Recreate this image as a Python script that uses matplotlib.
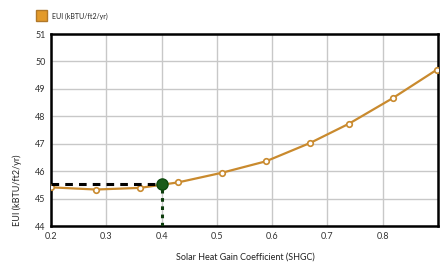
import matplotlib
matplotlib.use("Agg")
import matplotlib.pyplot as plt
from matplotlib.patches import Rectangle

shgc = [0.2, 0.281, 0.361, 0.430, 0.509, 0.589, 0.669, 0.739, 0.818, 0.898]
eui = [45.41, 45.33, 45.39, 45.59, 45.94, 46.36, 47.03, 47.73, 48.66, 49.70]
sel_x = [0.4]
sel_y = [45.53]
xticks = [0.2, 0.3, 0.4, 0.5, 0.6, 0.7, 0.8]
yticks = [44, 45, 46, 47, 48, 49, 50, 51]

plt.rcParams['font.family'] = ['Lato', 'DejaVu Sans']
W, H = 441, 267
fig = plt.figure(figsize=(W/100, H/100), dpi=100)
ax = fig.add_axes([51/W, 1-226/H, (438-51)/W, (226-34)/H])

orange = '#c98a2e'
ax.plot(shgc, eui, color=orange, lw=1.6, marker='o', ms=4, mfc='white', mec=orange, mew=1.2, zorder=3)
ax.plot([0.2, sel_x[0]], [sel_y[0], sel_y[0]], color='black', lw=2.2, ls=(0, (2.5, 2)), zorder=4)
ax.plot([sel_x[0], sel_x[0]], [44, sel_y[0]], color='#0d3d0d', lw=2.2, ls=(0, (1.2, 1.5)), zorder=4)
ax.plot(sel_x, sel_y, marker='o', ms=8, color='#1a5c1a', mec='#0d4a0d', zorder=5, ls='none')

ax.set_xlim(0.2, 0.9)
ax.set_ylim(44, 51)
ax.set_xticks(xticks)
ax.set_yticks(yticks)
ax.set_xticklabels([str(t) for t in xticks], fontsize=6.5, color='#333333')
ax.set_yticklabels([str(t) for t in yticks], fontsize=6.5, color='#333333')
ax.tick_params(length=0, pad=4)
ax.grid(True, color='#c8c8c8', lw=1)
ax.set_axisbelow(True)
for s in ax.spines.values():
    s.set_linewidth(1.8)
    s.set_color('black')

fig.text(245/W, 1-257/H, 'Solar Heat Gain Coefficient (SHGC)', ha='center', va='center', fontsize=6.5, color='#222222')
fig.text(17/W, 1-190/H, 'EUI (kBTU/ft2/yr)', ha='center', va='center', rotation=90, fontsize=6.5, color='#222222')

fig.patches.append(Rectangle((36/W, 1-21/H), 11/W, 11/H, transform=fig.transFigure,
                             facecolor='#e39a2a', edgecolor='#b0782a', lw=1))
fig.text(52/W, 1-16/H, 'EUI (kBTU/ft2/yr)', ha='left', va='center', fontsize=5, color='#222222')

fig.savefig('out.png', dpi=100)
